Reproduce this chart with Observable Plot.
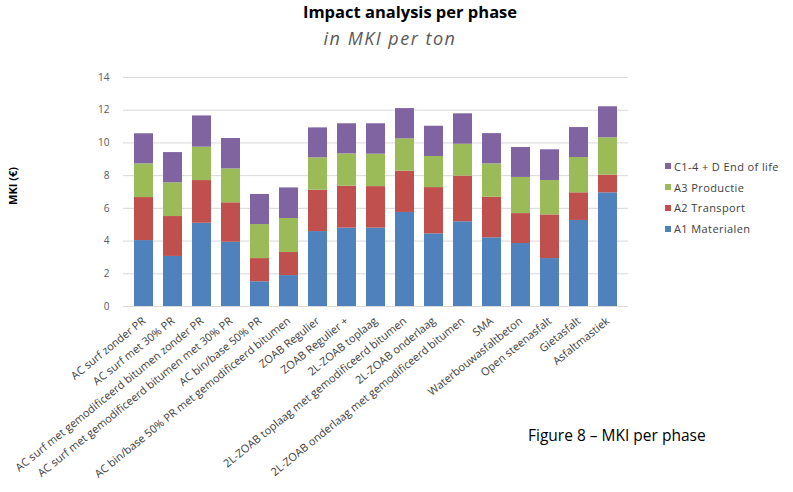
<!DOCTYPE html>
<html>
<head>
<meta charset="utf-8">
<script src="https://cdn.jsdelivr.net/npm/d3@7"></script>
<script src="https://cdn.jsdelivr.net/npm/@observablehq/plot@0.6"></script>
<style>
  body { margin: 0; background: #fff; }
  #page { position: relative; width: 793px; height: 492px; overflow: hidden; font-family: "Open Sans", sans-serif; }
  #chart { position: absolute; left: 0; top: 0; }
  .abs { position: absolute; white-space: nowrap; }
  .title { left: 410px; top: 0px; transform: translateX(-50%); font-weight: bold; font-size: 16.5px; line-height: normal; color: #000; }
  .subtitle { left: 390px; top: 30px; transform: translateX(-50%); font-style: italic; font-size: 18px; line-height: 17px; color: #595959; letter-spacing: 1.5px; }
  .ytitle { left: 12px; top: 186px; transform: translate(-50%, -50%) rotate(-90deg); font-weight: bold; font-size: 11px; line-height: 11px; color: #000; }
  .caption { left: 528px; top: 428px; font-size: 15.5px; line-height: 15px; color: #000; }
  .legend { left: 665px; top: 156px; font-size: 11px; color: #404040; }
  .legend .item { display: flex; align-items: center; height: 20.8px; letter-spacing: 0.4px; }
  .legend .sw { width: 6px; height: 6px; margin-right: 3px; flex: none; }
</style>
</head>
<body>
<div id="page">
  <div id="chart"></div>
  <div class="abs title">Impact analysis per phase</div>
  <div class="abs subtitle">in MKI per ton</div>
  <div class="abs ytitle">MKI (€)</div>
  <div class="abs legend" id="legend"></div>
  <div class="abs caption">Figure 8 – MKI per phase</div>
</div>
<script>
// Asphalt mixtures, in axis order
const categories = [
  "AC surf zonder PR",
  "AC surf met 30% PR",
  "AC surf met gemodificeerd bitumen zonder PR",
  "AC surf met gemodificeerd bitumen met 30% PR",
  "AC bin/base 50% PR",
  "AC bin/base 50% PR met gemodificeerd bitumen",
  "ZOAB Regulier",
  "ZOAB Regulier +",
  "2L-ZOAB toplaag",
  "2L-ZOAB toplaag met gemodificeerd bitumen",
  "2L-ZOAB onderlaag",
  "2L-ZOAB onderlaag met gemodificeerd bitumen",
  "SMA",
  "Waterbouwasfaltbeton",
  "Open steenasfalt",
  "Gietasfalt",
  "Asfaltmastiek"
];

// MKI (€) per ton, per life-cycle phase
const a1Materialen = [4.03, 3.06, 5.09, 3.93, 1.51, 1.89, 4.58, 4.79, 4.79, 5.75, 4.44, 5.18, 4.20, 3.85, 2.93, 5.26, 6.95];
const a2Transport  = [2.63, 2.44, 2.61, 2.41, 1.42, 1.41, 2.53, 2.57, 2.54, 2.52, 2.83, 2.79, 2.48, 1.83, 2.67, 1.69, 1.08];
const a3Productie  = [2.06, 2.06, 2.04, 2.07, 2.08, 2.08, 1.98, 1.97, 1.98, 1.98, 1.90, 1.95, 2.04, 2.21, 2.10, 2.16, 2.28];
const c14EndOfLife = [1.84, 1.85, 1.91, 1.86, 1.84, 1.87, 1.83, 1.84, 1.86, 1.85, 1.85, 1.86, 1.85, 1.83, 1.88, 1.83, 1.90];

const phases = ["A1 Materialen", "A2 Transport", "A3 Productie", "C1-4 + D End of life"];
const phaseColors = ["#4F81BD", "#C0504D", "#9BBB59", "#8064A2"];
const yTicks = [0, 2, 4, 6, 8, 10, 12, 14];

const series = [a1Materialen, a2Transport, a3Productie, c14EndOfLife];
const rows = categories.flatMap((category, i) =>
  phases.map((phase, k) => ({category, phase, value: series[k][i]}))
);

const chart = Plot.plot({
  width: 793,
  height: 492,
  marginLeft: 123,
  marginRight: 165,
  marginTop: 77,
  marginBottom: 186,
  style: {fontFamily: '"Open Sans", sans-serif', background: "transparent", overflow: "visible"},
  x: {domain: categories, paddingInner: 0.35, paddingOuter: 0.175, label: null},
  y: {domain: [0, 14], label: null},
  color: {domain: phases, range: phaseColors},
  marks: [
    Plot.gridY(yTicks, {stroke: "#d9d9d9", strokeOpacity: 1}),
    Plot.barY(rows, {x: "category", y: "value", fill: "phase"}),
    Plot.axisY(yTicks, {tickSize: 0, tickPadding: 14, fontSize: 10, fill: "#595959", stroke: "#bfbfbf", line: true, label: null}),
    Plot.axisX({tickSize: 0, tickPadding: 13, tickRotate: -39, fontSize: 11, fill: "#404040", stroke: "#bfbfbf", line: true, label: null})
  ]
});
document.getElementById("chart").append(chart);

// Legend, top entry is the top of the stack
const legend = document.getElementById("legend");
phases.slice().reverse().forEach(phase => {
  const item = document.createElement("div");
  item.className = "item";
  const sw = document.createElement("span");
  sw.className = "sw";
  sw.style.background = phaseColors[phases.indexOf(phase)];
  const label = document.createElement("span");
  label.textContent = phase;
  item.append(sw, label);
  legend.append(item);
});
</script>
</body>
</html>
